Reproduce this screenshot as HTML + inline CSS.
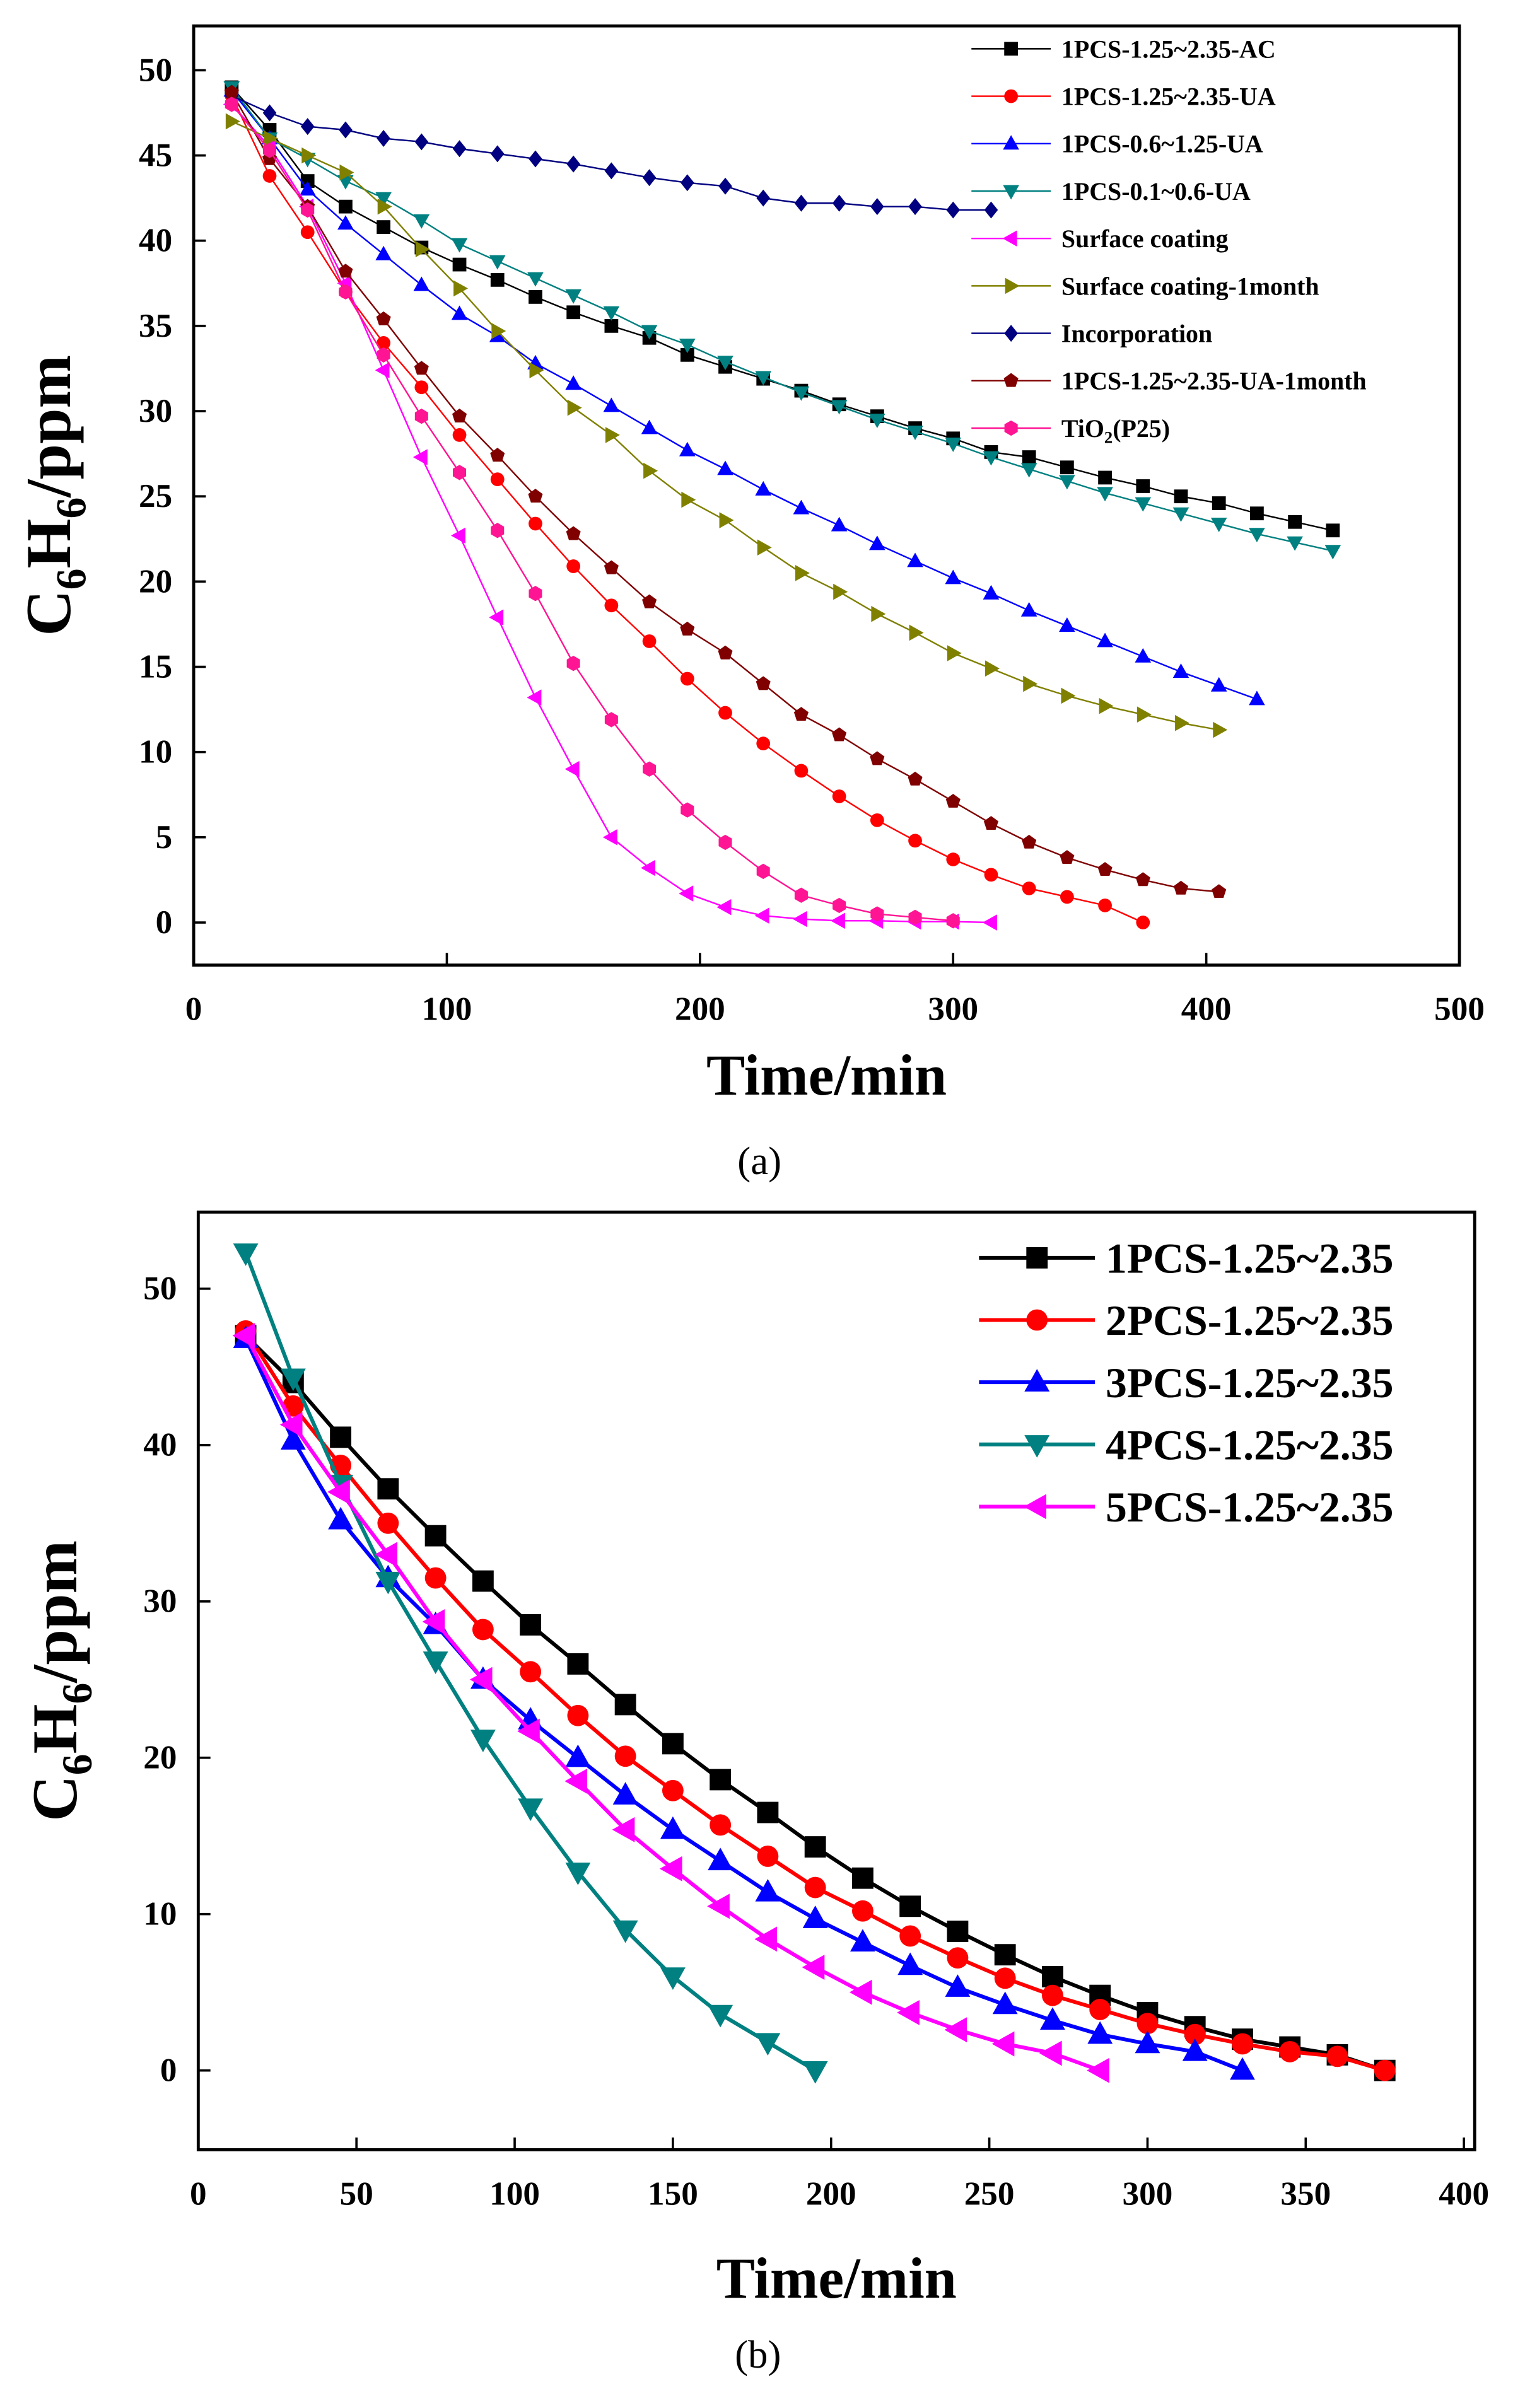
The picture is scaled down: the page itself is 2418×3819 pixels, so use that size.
<!DOCTYPE html>
<html><head><meta charset="utf-8"><style>
html,body{margin:0;padding:0;background:#fff}
svg{display:block}
text{font-family:"Liberation Serif",serif;font-weight:bold;fill:#000}
</style></head><body>
<svg id="fig" width="2418" height="3819" viewBox="0 0 1000 1579.4" xmlns="http://www.w3.org/2000/svg">
<rect width="1000" height="1580" fill="#fff"/>
<g id="chartA"></g>
<g id="chartB"></g>
<text x="498" y="770" text-anchor="middle" font-size="26" style="font-weight:normal">(a)</text>
<text x="497" y="1553" text-anchor="middle" font-size="26" style="font-weight:normal">(b)</text>
</svg>
<script>
// ---- Chart (a) data ----
const aNames = ["1PCS-1.25~2.35-AC","1PCS-1.25~2.35-UA","1PCS-0.6~1.25-UA","1PCS-0.1~0.6-UA","Surface coating","Surface coating-1month","Incorporation","1PCS-1.25~2.35-UA-1month","TiO2(P25)"];
const aAC = [49,46.5,43.5,42,40.8,39.6,38.6,37.7,36.7,35.8,35,34.3,33.3,32.6,31.9,31.2,30.4,29.7,29,28.4,27.6,27.3,26.7,26.1,25.6,25,24.6,24,23.5,23];
const aUA = [48.5,43.8,40.5,37,34,31.4,28.6,26,23.4,20.9,18.6,16.5,14.3,12.3,10.5,8.9,7.4,6,4.8,3.7,2.8,2,1.5,1,0];
const aUA06 = [48.8,46,43,41,39.2,37.4,35.7,34.4,32.8,31.6,30.3,29,27.7,26.6,25.4,24.3,23.3,22.2,21.2,20.2,19.3,18.3,17.4,16.5,15.6,14.7,13.9,13.1];
const aUA01 = [49,46,44.8,43.5,42.5,41.2,39.8,38.8,37.8,36.8,35.8,34.7,33.9,32.9,32,31.1,30.3,29.5,28.8,28.1,27.3,26.6,25.9,25.2,24.6,24,23.4,22.8,22.3,21.8];
const aSC = [48,45.5,42,37.5,32.4,27.3,22.7,17.9,13.2,9,5,3.2,1.7,0.9,0.4,0.2,0.1,0.1,0.05,0.05,0];
const aSC1m = [47,46,45,44,42,39.5,37.2,34.7,32.4,30.2,28.6,26.5,24.8,23.6,22,20.5,19.4,18.1,17,15.8,14.9,14,13.3,12.7,12.2,11.7,11.3];
const aInc = [48.5,47.5,46.7,46.5,46,45.8,45.4,45.1,44.8,44.5,44.1,43.7,43.4,43.2,42.5,42.2,42.2,42,42,41.8,41.8];
const aUA1m = [48.7,44.8,42,38.2,35.4,32.5,29.7,27.4,25,22.8,20.8,18.8,17.2,15.8,14,12.2,11,9.6,8.4,7.1,5.8,4.7,3.8,3.1,2.5,2,1.8];
const aTiO2 = [48,45.3,41.8,37,33.3,29.7,26.4,23,19.3,15.2,11.9,9,6.6,4.7,3,1.6,1,0.5,0.3,0.1];
const aXTicks = [0,100,200,300,400,500];
const aYTicks = [0,5,10,15,20,25,30,35,40,45,50];
// ---- Chart (b) data ----
const bNames = ["1PCS-1.25~2.35","2PCS-1.25~2.35","3PCS-1.25~2.35","4PCS-1.25~2.35","5PCS-1.25~2.35"];
const b1 = [47,44,40.5,37.2,34.2,31.3,28.5,26,23.4,20.9,18.6,16.5,14.3,12.3,10.5,8.9,7.4,6,4.8,3.7,2.8,2,1.5,1,0];
const b2 = [47.3,42.5,38.7,35,31.5,28.2,25.5,22.7,20.1,17.9,15.7,13.7,11.7,10.2,8.6,7.2,5.9,4.8,3.9,3,2.3,1.7,1.2,0.9,0];
const b3 = [46.8,40.3,35.2,31.5,28.5,25,22.4,20,17.6,15.4,13.4,11.4,9.7,8.2,6.7,5.3,4.2,3.2,2.3,1.7,1.2,0];
const b4 = [52.3,44.3,37.5,31.3,26.2,21.2,16.8,12.7,9,6,3.6,1.8,0];
const b5 = [47,41.3,37,33,28.7,25,21.7,18.5,15.4,12.9,10.5,8.4,6.6,5,3.7,2.6,1.7,1.1,0];
const bXTicks = [0,50,100,150,200,250,300,350,400];
const bYTicks = [0,10,20,30,40,50];
const tStart = 15, tStep = 15;

const NS="http://www.w3.org/2000/svg";
function mk(parent,tag,attrs){const e=document.createElementNS(NS,tag);for(const k in attrs)e.setAttribute(k,attrs[k]);parent.appendChild(e);return e;}

function marker(g,type,cx,cy,s,color){
  let e;
  if(type==="square"){e=mk(g,"rect",{x:cx-s/2,y:cy-s/2,width:s,height:s,fill:color});}
  else if(type==="circle"){e=mk(g,"circle",{cx:cx,cy:cy,r:s/2,fill:color});}
  else{
    let pts=[];const r=s*0.62;
    if(type==="up")pts=[[0,-r],[r*0.95,r*0.7],[-r*0.95,r*0.7]];
    else if(type==="down")pts=[[0,r],[r*0.95,-r*0.7],[-r*0.95,-r*0.7]];
    else if(type==="left")pts=[[-r,0],[r*0.7,-r*0.95],[r*0.7,r*0.95]];
    else if(type==="right")pts=[[r,0],[-r*0.7,-r*0.95],[-r*0.7,r*0.95]];
    else if(type==="diamond")pts=[[0,-r],[r*0.8,0],[0,r],[-r*0.8,0]];
    else{const n=type==="pent"?5:6;for(let i=0;i<n;i++){const a=-Math.PI/2+i*2*Math.PI/n;pts.push([r*0.9*Math.cos(a),r*0.9*Math.sin(a)]);}}
    e=mk(g,"polygon",{points:pts.map(p=>(cx+p[0])+","+(cy+p[1])).join(" "),fill:color});
  }
  
  
  return e;
}

function drawChart(root,cfg){
  const sx=v=>cfg.x0+(v-cfg.xmin)/(cfg.xmax-cfg.xmin)*(cfg.x1-cfg.x0);
  const sy=v=>cfg.y1-(v-cfg.ymin)/(cfg.ymax-cfg.ymin)*(cfg.y1-cfg.y0);
  const frame=mk(root,"rect",{x:cfg.x0,y:cfg.y0,width:cfg.x1-cfg.x0,height:cfg.y1-cfg.y0,fill:"none",stroke:"#000","stroke-width":2});
  
  
  cfg.xticks.forEach(t=>{
    const x=sx(t);
    const l=mk(root,"line",{x1:x,x2:x,y1:cfg.y1,y2:cfg.y1-8,stroke:"#000","stroke-width":1.5});
    
    
    const tx=mk(root,"text",{x:x,y:cfg.y1+36,"text-anchor":"middle","font-size":cfg.tickFs});
    tx.textContent=t;
    
    
  });
  cfg.yticks.forEach(t=>{
    const y=sy(t);
    const l=mk(root,"line",{x1:cfg.x0,x2:cfg.x0+8,y1:y,y2:y,stroke:"#000","stroke-width":1.5});
    
    
    const tx=mk(root,"text",{x:cfg.x0-14,y:y+7,"text-anchor":"end","font-size":cfg.tickFs});
    tx.textContent=t;
    
    
  });
  const xt=mk(root,"text",{x:(cfg.x0+cfg.x1)/2,y:cfg.xTitleY,"text-anchor":"middle","font-size":38});
  xt.textContent="Time/min";
  
  
  const yt=mk(root,"text",{x:0,y:0,"text-anchor":"middle","font-size":42,transform:`translate(${cfg.yTitleX},${(cfg.y0+cfg.y1)/2}) rotate(-90)`});
  yt.innerHTML='C<tspan font-size="28" dy="10">6</tspan><tspan dy="-10">H</tspan><tspan font-size="28" dy="10">6</tspan><tspan dy="-10">/ppm</tspan>';
  
  
  cfg.series.forEach((s,i)=>{
    const g=mk(root,"g",{});
    
    
    const pts=s.data.map((v,j)=>[sx(tStart+j*tStep),sy(v)]);
    const pl=mk(g,"polyline",{points:pts.map(p=>p.join(",")).join(" "),fill:"none",stroke:s.color,"stroke-width":cfg.lw});
    
    
    pts.forEach(p=>marker(g,s.m,p[0],p[1],cfg.ms,s.color));
    // legend
    const ly=cfg.legY+i*cfg.legDy;
    const lg=mk(root,"g",{});
    
    
    mk(lg,"line",{x1:cfg.legX,x2:cfg.legX+cfg.legLen,y1:ly,y2:ly,stroke:s.color,"stroke-width":cfg.lw});
    marker(lg,s.m,cfg.legX+cfg.legLen/2,ly,cfg.ms,s.color);
    const t=mk(lg,"text",{x:cfg.legX+cfg.legLen+7,y:ly+cfg.legFs*0.35,"font-size":cfg.legFs});
    if(s.name==="TiO2(P25)")t.innerHTML='TiO<tspan font-size="11" dy="4">2</tspan><tspan dy="-4">(P25)</tspan>';
    else t.textContent=s.name;
  });
}

drawChart(document.getElementById("chartA"),{
  x0:127,x1:957,y0:17,y1:633,xmin:0,xmax:500,ymin:-2.5,ymax:52.6,
  xticks:aXTicks,yticks:aYTicks,tickFs:22,xTitleY:718,yTitleX:46,lw:1,ms:9,
  legX:637,legY:32,legDy:31.1,legLen:52,legFs:16.5,
  series:[
    {name:aNames[0],data:aAC,color:"#000000",m:"square"},
    {name:aNames[1],data:aUA,color:"#ff0000",m:"circle"},
    {name:aNames[2],data:aUA06,color:"#0000ff",m:"up"},
    {name:aNames[3],data:aUA01,color:"#008080",m:"down"},
    {name:aNames[4],data:aSC,color:"#ff00ff",m:"left"},
    {name:aNames[5],data:aSC1m,color:"#808000",m:"right"},
    {name:aNames[6],data:aInc,color:"#000080",m:"diamond"},
    {name:aNames[7],data:aUA1m,color:"#800000",m:"pent"},
    {name:aNames[8],data:aTiO2,color:"#ff1493",m:"hex"}
  ]});
drawChart(document.getElementById("chartB"),{
  x0:130,x1:967,y0:795,y1:1410,xmin:0,xmax:403.4,ymin:-5.07,ymax:54.9,
  xticks:bXTicks,yticks:bYTicks,tickFs:22,xTitleY:1507,yTitleX:50,lw:2.5,ms:14,
  legX:642,legY:825,legDy:40.8,legLen:76,legFs:28,
  series:[
    {name:bNames[0],data:b1,color:"#000000",m:"square"},
    {name:bNames[1],data:b2,color:"#ff0000",m:"circle"},
    {name:bNames[2],data:b3,color:"#0000ff",m:"up"},
    {name:bNames[3],data:b4,color:"#008080",m:"down"},
    {name:bNames[4],data:b5,color:"#ff00ff",m:"left"}
  ]});
</script>
</body></html>
